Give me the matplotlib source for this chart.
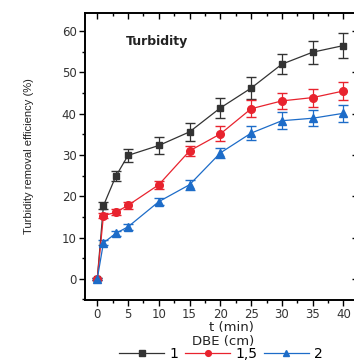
import matplotlib
matplotlib.use('Agg')
import matplotlib.pyplot as plt
from matplotlib.lines import Line2D
from matplotlib.ticker import MultipleLocator

# time (min)
t = [0, 1, 3, 5, 10, 15, 20, 25, 30, 35, 40]

# turbidity removal efficiency (%) for each DBE (cm)
eff_1 = [0, 17.7, 24.8, 29.9, 32.3, 35.6, 41.4, 46.2, 52.0, 54.9, 56.5]
eff_15 = [0, 15.3, 16.1, 17.8, 22.8, 31.0, 35.1, 41.2, 43.1, 43.9, 45.5]
eff_2 = [0, 8.7, 11.0, 12.6, 18.7, 22.8, 30.5, 35.3, 38.3, 38.9, 40.1]

err_1 = [0.3, 0.8, 1.2, 1.5, 2.0, 2.2, 2.5, 2.6, 2.4, 2.8, 3.0]
err_15 = [0.3, 0.6, 0.7, 0.8, 1.0, 1.2, 1.8, 2.0, 2.0, 2.2, 2.1]
err_2 = [0.3, 0.6, 0.7, 0.8, 0.9, 1.2, 1.3, 1.6, 2.0, 2.0, 2.0]

labels = ['1', '1,5', '2']
colors = ['#333333', '#e8232e', '#1d6cc8']
markers = ['s', 'o', '^']
sizes = [5, 5.5, 6]

fig = plt.figure(figsize=(3.54, 3.6), dpi=100)
ax = fig.add_axes([0.240, 0.167, 0.772, 0.797])

for y, e, c, m, ms in zip([eff_1, eff_15, eff_2], [err_1, err_15, err_2],
                          colors, markers, sizes):
    ax.errorbar(t, y, yerr=e, color=c, marker=m, ms=ms,
                lw=0.9, elinewidth=0.9, capsize=3.5)

ax.set_xlim(-2, 42.4)
ax.set_ylim(-5.1, 64.4)
ax.xaxis.set_major_locator(MultipleLocator(5))
ax.xaxis.set_minor_locator(MultipleLocator(2.5))
ax.yaxis.set_major_locator(MultipleLocator(10))
ax.yaxis.set_minor_locator(MultipleLocator(5))

for s in ax.spines.values():
    s.set_linewidth(1.4)
ax.tick_params(which='both', direction='out', top=True, right=True,
               labelsize=8.5, labelcolor='#333333', width=1.0, pad=2)
ax.tick_params(which='major', length=4)
ax.tick_params(which='minor', length=2.5)
# top and right ticks point inward
for tk in ax.xaxis.get_major_ticks() + ax.xaxis.get_minor_ticks():
    tk.tick2line.set_marker(3)
for tk in ax.yaxis.get_major_ticks() + ax.yaxis.get_minor_ticks():
    tk.tick2line.set_marker(0)

ax.text(0.15, 0.89, 'Turbidity', transform=ax.transAxes, fontsize=9,
        fontweight='bold', color='#222222')

ax.set_ylabel('Turbidity removal efficiency (%)', family='Liberation Sans',
              fontsize=8, color='#222222', labelpad=20)
fig.text(0.655, 1 - 328 / 360, 't (min)', fontsize=9.5, color='#222222',
         ha='center', va='center')
fig.text(0.63, 1 - 341 / 360, 'DBE (cm)', fontsize=9.5, color='#222222',
         ha='center', va='center')

handles = [Line2D([], [], color=c, marker=m, ms=ms * 0.75, lw=0.9)
           for c, m, ms in zip(colors, markers, sizes)]
fig.legend(handles, labels, loc='center', bbox_to_anchor=(0.625, 1 - 353.5 / 360),
           ncol=3, frameon=False, fontsize=10,
           handlelength=3.2, columnspacing=0.5, handletextpad=0.4,
           borderpad=0, labelspacing=0)

fig.savefig('out.png', dpi=100)
